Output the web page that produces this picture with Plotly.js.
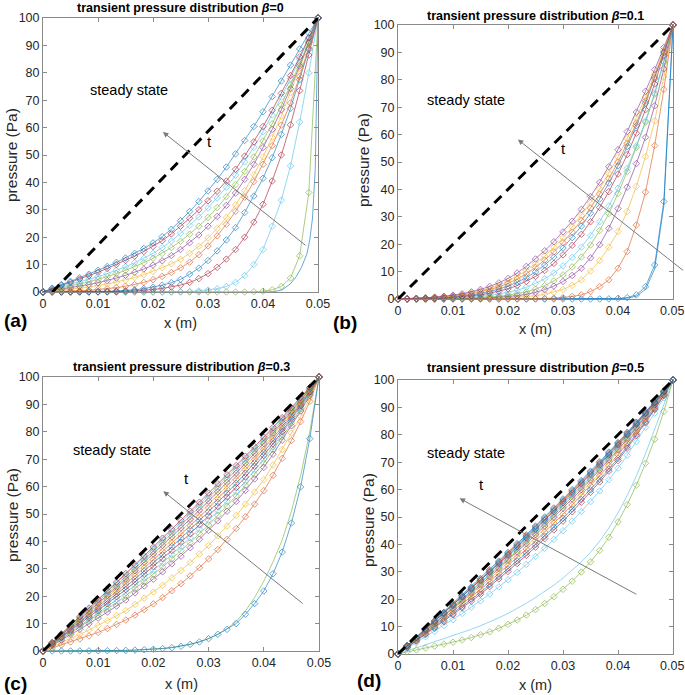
<!DOCTYPE html>
<html><head><meta charset="utf-8">
<script src="https://cdn.plot.ly/plotly-3.0.1.min.js"></script>
<style>html,body{margin:0;padding:0;background:#fff}#plot{width:685px;height:695px}</style>
</head><body><div id="plot"></div>
<script>
// ---------- data ----------
const X = [0,0.001667,0.003333,0.005,0.006667,0.008333,0.01,0.011667,0.013333,0.015,0.016667,0.018333,0.02,0.021667,0.023333,0.025,0.026667,0.028333,0.03,0.031667,0.033333,0.035,0.036667,0.038333,0.04,0.041667,0.043333,0.045,0.046667,0.048333,0.05];
const xTickVals = [0,0.01,0.02,0.03,0.04,0.05];
const xTickText = ['0','0.01','0.02','0.03','0.04','0.05'];
const xTickTextEdge = ['0','0.01','0.02','0.03','0.04',''];   // last label drawn separately at the page edge
const edgeTickLabel = '0.05';
const yTickVals = [0,10,20,30,40,50,60,70,80,90,100];

// steady state lines
const ssA_x = [0.0017,0.05], ssA_y = [0,100];
const ssB_x = [0,0.05], ssB_y = [0,100];
const ssC_x = [0,0.05], ssC_y = [0,100];
const ssD_x = [0,0.05], ssD_y = [0,100];

// (a) beta = 0
const aLineX = [0.04,0.042,0.0435,0.045,0.046,0.047,0.048,0.0485,0.049,0.0495,0.05];
const aLineY = [0,0.1,0.8,3,5.5,9,14,19,27,45,100];
const a01 = [0,0,0,0,0,0,0,0,0,0,0,0,0,0,0,0,0,0,0,0,0,0,0,0.1,0.3,0.8,2.0,5.1,13.2,36.3,100];
const a02 = [0,0,0,0,0,0,0,0,0,0,0,0,0,0.02,0.05,0.1,0.2,0.4,0.7,1.2,2.0,3.5,6.0,10.0,15.5,24.0,33.5,46.0,62.0,80.0,100];
const a03 = [0,0,0,0.01,0.02,0.03,0.06,0.1,0.15,0.25,0.4,0.6,0.9,1.3,1.8,2.5,3.5,4.9,6.7,9.0,12.0,15.5,20.0,25.5,32.0,40.5,50.0,61.0,73.5,86.5,100];
const a04 = [0,0.01,0.02,0.04,0.07,0.11,0.17,0.26,0.38,0.55,0.8,1.2,1.8,2.5,3.4,4.6,6.5,8.7,11.5,15.0,19.0,23.5,29.0,35.0,41.5,49.0,57.5,67.0,77.5,88.5,100];
const a05 = [0,0.1,0.2,0.3,0.45,0.65,0.9,1.2,1.6,2.1,2.7,3.5,4.5,5.7,7.1,8.8,10.9,13.6,16.8,20.5,24.7,29.4,34.6,40.3,46.6,53.4,60.9,69.0,78.7,89.0,100];
const a06 = [0,0.3,0.6,1.0,1.4,1.8,2.3,2.9,3.6,4.4,5.3,6.3,7.5,8.9,10.3,11.9,14.1,16.7,19.7,23.2,27.2,31.8,37.0,42.8,49.3,56.4,64.2,72.7,81.7,90.8,100];
const a07 = [0,0.5,1.0,1.5,2.1,2.7,3.4,4.2,5.1,6.1,7.2,8.4,9.8,11.4,13.3,15.5,18.0,20.8,24.0,27.6,31.6,36.1,41.1,46.6,52.7,59.3,66.5,74.2,82.5,91.1,100];
const a08 = [0,0.7,1.4,2.1,2.9,3.7,4.6,5.6,6.7,7.9,9.2,10.7,12.3,14.1,16.2,18.5,21.1,24.0,27.2,30.8,34.8,39.2,44.0,49.3,55.1,61.4,68.2,75.5,83.3,91.5,100];
const a09 = [0,0.9,1.8,2.7,3.6,4.6,5.6,6.7,7.9,9.2,10.7,12.3,14.1,16.2,18.6,21.4,24.3,27.4,30.7,34.3,38.2,42.6,47.5,52.8,58.5,64.6,71.1,77.9,85.0,92.4,100];
const a10 = [0,1.2,2.4,3.5,4.7,5.9,7.2,8.6,10.0,11.5,13.1,14.8,16.6,18.7,21.2,24.0,26.9,30.0,33.3,36.8,40.5,44.8,49.6,54.8,60.4,66.3,72.5,79.0,85.8,92.8,100];
const a11 = [0,1.4,2.7,3.9,5.2,6.5,7.9,9.3,10.8,12.4,14.1,15.9,17.9,20.2,22.9,26.0,29.4,33.0,36.9,41.1,45.6,50.4,55.3,60.4,65.8,71.3,77.0,82.8,88.7,94.5,100];

// (b) beta = 0.1
const bLine = [0,0,0,0,0,0,0,0,0,0,0,0,0,0,0,0,0,0,0,0,0,0,0,0,0.1,0.3,1.0,3.5,11.0,34.0,100];
const b01 = [0,0,0,0,0,0,0,0,0,0,0,0,0,0,0,0,0,0,0,0,0,0,0,0.05,0.2,0.5,1.5,4.5,12.4,35.6,100];
const b02 = [0,0,0,0,0,0,0,0,0,0,0,0,0,0.02,0.04,0.08,0.15,0.28,0.5,0.9,1.5,2.7,4.5,7.0,11.2,17.3,27.0,39.0,56.0,76.5,100];
const b03 = [0,0,0,0.01,0.01,0.02,0.03,0.05,0.08,0.12,0.18,0.27,0.4,0.58,0.85,1.2,1.75,2.5,3.5,5.0,7.0,10.2,14.0,18.9,24.6,31.9,41.1,52.0,65.0,81.0,100];
const b04 = [0,0,0.01,0.02,0.03,0.05,0.08,0.12,0.18,0.27,0.4,0.58,0.83,1.2,1.7,2.4,3.4,4.7,6.4,8.6,11.2,15.0,19.8,25.8,33.0,40.8,49.4,59.0,70.5,84.0,100];
const b05 = [0,0.01,0.02,0.04,0.07,0.11,0.17,0.25,0.36,0.51,0.72,1.0,1.4,1.9,2.6,3.6,4.9,6.6,8.8,11.7,15.3,19.7,25.0,31.2,38.5,46.5,55.3,64.5,74.7,86.5,100];
const b06 = [0,0.02,0.04,0.08,0.14,0.22,0.33,0.48,0.68,0.95,1.3,1.8,2.4,3.2,4.3,5.7,7.4,9.5,12.1,15.2,18.9,23.2,28.2,33.9,40.4,47.7,55.9,65.0,75.2,86.9,100];
const b07 = [0,0.03,0.07,0.15,0.25,0.38,0.55,0.8,1.1,1.5,2.1,2.8,3.7,4.9,6.4,8.2,10.4,13.0,16.1,19.6,23.6,28.2,33.4,39.2,45.6,52.7,60.5,69.1,78.5,88.9,100];
const b08 = [0,0.05,0.1,0.2,0.35,0.5,0.75,1.05,1.45,2.0,2.7,3.6,4.7,6.1,7.8,9.9,12.4,15.3,18.6,22.4,26.6,31.3,36.5,42.3,48.6,55.6,63.2,71.5,80.4,89.9,100];
const b09 = [0,0.1,0.2,0.3,0.5,0.7,1.0,1.4,1.9,2.6,3.4,4.4,5.7,7.3,9.2,11.5,14.2,17.2,20.6,24.4,28.6,33.2,38.3,43.9,50.0,56.8,64.2,72.3,81.0,90.3,100];
const b10 = [0,0.1,0.2,0.4,0.6,0.9,1.2,1.6,2.2,3.0,3.9,5.1,6.5,8.3,10.4,12.9,15.7,18.9,22.4,26.3,30.5,35.1,40.2,45.8,51.9,58.6,65.9,73.7,82.1,90.9,100];
const b11 = [0,0.1,0.25,0.45,0.7,1.0,1.4,1.9,2.6,3.5,4.6,5.9,7.5,9.5,11.9,14.6,17.6,20.9,24.5,28.4,32.7,37.4,42.6,48.3,54.5,61.1,68.2,75.8,83.7,91.8,100];

// (c) beta = 0.3
const c01 = [0,0,0,0.01,0.02,0.04,0.07,0.1,0.15,0.22,0.32,0.45,0.65,0.9,1.2,1.7,2.4,3.3,4.5,6.1,7.9,10.0,13.4,17.3,21.9,28.2,36.1,46.7,59.9,77.5,100];
const cLine = [0,0,0,0.01,0.02,0.04,0.07,0.1,0.15,0.22,0.32,0.45,0.65,0.9,1.3,1.8,2.5,3.4,4.6,6.1,8.1,10.8,14.6,19.5,25.5,32.5,40.5,51.0,64.0,80.0,100];
const c02 = [0,1.1,2.2,3.3,4.4,5.5,6.8,8.2,9.7,11.3,13.1,15.1,17.2,19.5,22.0,24.6,27.4,30.4,33.6,37.0,40.7,44.7,49.0,53.6,58.5,64.1,70.3,76.8,83.7,91.1,100];
const c03 = [0,1.6,3.0,4.6,6.0,7.6,9.3,11.1,12.9,14.7,17.0,19.3,21.5,24.0,26.7,29.4,32.3,35.4,38.5,42.0,45.6,49.4,53.6,58.0,62.5,67.9,73.5,79.5,85.6,92.2,100];
const c04 = [0,2.1,3.9,6.0,7.9,9.9,12.0,14.2,16.4,18.6,21.2,23.7,26.2,28.9,31.8,34.6,37.7,40.8,44.0,47.5,51.0,54.6,58.6,62.8,67.0,71.8,76.9,82.2,87.6,93.3,100];
const c05 = [0,2.2,4.3,6.5,8.6,10.8,13.0,15.4,17.7,20.1,22.7,25.3,28.0,30.7,33.6,36.6,39.6,42.8,46.0,49.5,52.9,56.6,60.5,64.5,68.6,73.3,78.1,83.1,88.3,93.7,100];
const c06 = [0,2.4,4.6,6.9,9.2,11.5,13.9,16.3,18.8,21.3,24.0,26.7,29.4,32.3,35.2,38.2,41.3,44.5,47.7,51.2,54.6,58.2,62.0,66.0,70.0,74.5,79.2,84.0,88.9,94.1,100];
const c07 = [0,2.5,4.9,7.3,9.7,12.2,14.7,17.2,19.8,22.4,25.2,28.0,30.8,33.7,36.7,39.7,42.8,46.1,49.3,52.7,56.2,59.7,63.5,67.4,71.3,75.6,80.1,84.8,89.5,94.4,100];
const c08 = [0,2.6,5.1,7.7,10.2,12.8,15.4,18.1,20.8,23.5,26.3,29.2,32.1,35.1,38.1,41.2,44.3,47.6,50.8,54.2,57.6,61.2,64.9,68.7,72.5,76.7,81.1,85.5,90.0,94.7,100];
const c09 = [0,2.7,5.3,8.1,10.7,13.4,16.1,18.9,21.7,24.5,27.4,30.3,33.3,36.3,39.4,42.5,45.7,48.9,52.2,55.6,59.0,62.5,66.2,69.9,73.6,77.7,81.9,86.2,90.5,95.0,100];
const c10 = [0,2.8,5.6,8.4,11.1,13.9,16.8,19.6,22.5,25.4,28.4,31.4,34.4,37.5,40.6,43.8,47.0,50.2,53.5,56.9,60.3,63.8,67.4,71.0,74.7,78.7,82.7,86.8,91.0,95.3,100];
const c11 = [0,2.9,5.8,8.7,11.5,14.4,17.4,20.3,23.3,26.2,29.3,32.4,35.4,38.6,41.7,44.9,48.1,51.4,54.7,58.1,61.5,64.9,68.5,72.1,75.7,79.5,83.4,87.4,91.4,95.6,100];
const c12 = [0,3.0,6.0,9.0,11.9,14.9,17.9,20.9,24.0,27.0,30.1,33.3,36.4,39.6,42.8,46.0,49.2,52.5,55.8,59.2,62.5,66.0,69.5,73.0,76.6,80.3,84.1,87.9,91.8,95.8,100];
const c13 = [0,3.1,6.1,9.2,12.2,15.3,18.4,21.5,24.6,27.7,30.9,34.1,37.3,40.5,43.7,46.9,50.2,53.5,56.8,60.2,63.5,66.9,70.4,73.9,77.4,81.0,84.7,88.4,92.2,96.0,100];
const c14 = [0,3.1,6.3,9.4,12.5,15.7,18.8,22.0,25.1,28.3,31.5,34.7,37.9,41.2,44.4,47.7,51.0,54.3,57.6,61.0,64.3,67.7,71.1,74.6,78.0,81.6,85.2,88.8,92.5,96.2,100];

// (d) beta = 0.5
const d01 = [0,0.8,1.5,2.2,2.9,3.6,4.3,5.1,6.0,7.0,8.1,9.4,10.8,12.4,14.2,16.2,18.4,20.9,23.6,26.6,29.9,33.6,37.8,42.6,48.2,54.5,61.6,69.6,78.4,88.5,100];
const dLine = [0,1.1,2.2,3.3,4.4,5.5,6.6,7.8,9.0,10.3,11.7,13.2,14.8,16.6,18.5,20.6,22.8,25.1,27.7,30.5,33.6,37.1,41.2,46.0,51.5,57.8,65.0,73.1,81.9,90.9,100];
const d02 = [0,2.1,4.1,6.3,8.2,10.4,12.5,14.8,17.1,19.4,21.9,24.5,27.1,29.8,32.7,35.6,38.6,41.8,45.0,48.5,52.0,55.6,59.5,63.6,67.8,72.5,77.5,82.7,87.9,93.5,100];
const d03 = [0,2.4,4.7,7.1,9.4,11.8,14.3,16.8,19.3,21.8,24.6,27.4,30.1,33.0,36.0,39.0,42.1,45.3,48.5,51.9,55.4,59.0,62.8,66.7,70.6,75.1,79.7,84.4,89.2,94.3,100];
const d04 = [0,2.5,4.9,7.4,9.8,12.3,14.8,17.3,20.0,22.5,25.4,28.2,31.0,33.9,36.9,39.9,43.0,46.3,49.5,52.9,56.4,59.9,63.7,67.5,71.4,75.8,80.3,84.9,89.6,94.5,100];
const d05 = [0,2.6,5.1,7.8,10.3,12.9,15.5,18.2,20.9,23.6,26.5,29.4,32.3,35.2,38.3,41.4,44.5,47.8,51.0,54.4,57.9,61.4,65.1,68.8,72.7,76.9,81.2,85.6,90.1,94.8,100];
const d06 = [0,2.7,5.3,8.1,10.7,13.4,16.1,18.9,21.7,24.5,27.4,30.3,33.3,36.3,39.4,42.5,45.7,48.9,52.2,55.6,59.0,62.5,66.2,69.9,73.6,77.7,81.9,86.2,90.5,95.0,100];
const d07 = [0,2.8,5.5,8.3,11.0,13.8,16.6,19.5,22.3,25.2,28.2,31.2,34.2,37.2,40.3,43.5,46.7,49.9,53.2,56.6,60.0,63.5,67.1,70.8,74.5,78.4,82.5,86.7,90.9,95.2,100];
const d08 = [0,2.9,5.6,8.5,11.3,14.1,17.0,19.9,22.8,25.7,28.8,31.8,34.8,37.9,41.1,44.2,47.5,50.7,54.0,57.4,60.8,64.2,67.8,71.4,75.1,79.0,83.0,87.1,91.2,95.4,100];
const d09 = [0,2.9,5.8,8.7,11.5,14.4,17.4,20.3,23.3,26.2,29.3,32.4,35.4,38.6,41.7,44.9,48.1,51.4,54.7,58.1,61.5,64.9,68.5,72.1,75.7,79.5,83.4,87.4,91.4,95.6,100];
const d10 = [0,3.0,5.9,8.8,11.7,14.7,17.7,20.7,23.7,26.7,29.8,32.9,36.0,39.1,42.3,45.5,48.7,52.0,55.3,58.7,62.1,65.5,69.0,72.6,76.2,80.0,83.8,87.7,91.6,95.7,100];
const d11 = [0,3.0,6.0,9.0,11.9,14.9,17.9,20.9,24.0,27.0,30.1,33.3,36.4,39.6,42.8,46.0,49.2,52.5,55.8,59.2,62.5,66.0,69.5,73.0,76.6,80.3,84.1,87.9,91.8,95.8,100];
const d12 = [0,3.0,6.0,9.1,12.0,15.1,18.1,21.2,24.2,27.3,30.4,33.6,36.7,39.9,43.1,46.4,49.6,52.9,56.2,59.6,62.9,66.4,69.8,73.4,76.9,80.6,84.4,88.1,92.0,95.9,100];
const d13 = [0,3.1,6.1,9.2,12.2,15.2,18.3,21.4,24.5,27.6,30.8,33.9,37.1,40.3,43.5,46.7,50.0,53.3,56.6,60.0,63.3,66.7,70.2,73.7,77.2,80.9,84.6,88.3,92.1,96.0,100];

const titles = ['transient pressure distribution <i>β</i>=0','transient pressure distribution <i>β</i>=0.1','transient pressure distribution <i>β</i>=0.3','transient pressure distribution <i>β</i>=0.5'];
const panelLetters = ['(a)','(b)','(c)','(d)'];

// ---------- styling ----------
const COL = {blue:'#0072BD',orange:'#D95319',yellow:'#EDB120',purple:'#7E2F8E',green:'#77AC30',cyan:'#4DBEEE',red:'#A2142F'};
const FONT = 'Liberation Sans, Arial, Helvetica, sans-serif';

function curve(n, x, y, color, withMarkers){
  return {type:'scatter', mode: withMarkers?'lines+markers':'lines', x:x, y:y,
    xaxis:'x'+(n>1?n:''), yaxis:'y'+(n>1?n:''),
    line:{color:color, width:0.75},
    marker:{symbol:'diamond-open', size:5, color:color, line:{width:0.75, color:color}},
    opacity:0.8, cliponaxis:false, showlegend:false, hoverinfo:'skip'};
}
function steady(n, x, y){
  return {type:'scatter', mode:'lines', x:x, y:y, xaxis:'x'+(n>1?n:''), yaxis:'y'+(n>1?n:''),
    line:{color:'#000', width:3, dash:'10px,7px'}, showlegend:false, hoverinfo:'skip'};
}

const traces = [];
// (a)
traces.push(curve(1, aLineX, aLineY, COL.blue, false));
[[a01,'green'],[a02,'cyan'],[a03,'red'],[a04,'blue'],[a05,'orange'],[a06,'yellow'],[a07,'purple'],[a08,'green'],[a09,'cyan'],[a10,'red'],[a11,'blue']]
  .forEach(p=>traces.push(curve(1, X, p[0], COL[p[1]], true)));
traces.push(steady(1, ssA_x, ssA_y));
// (b)
traces.push(curve(2, X, bLine, COL.blue, false));
[[b01,'blue'],[b02,'orange'],[b03,'yellow'],[b04,'purple'],[b05,'green'],[b06,'cyan'],[b07,'red'],[b08,'blue'],[b09,'orange'],[b10,'yellow'],[b11,'purple']]
  .forEach(p=>traces.push(curve(2, X, p[0], COL[p[1]], true)));
traces.push(steady(2, ssB_x, ssB_y));
// (c)
traces.push(curve(3, X, cLine, COL.green, false));
[[c01,'blue'],[c02,'orange'],[c03,'yellow'],[c04,'purple'],[c05,'green'],[c06,'cyan'],[c07,'red'],[c08,'blue'],[c09,'orange'],[c10,'yellow'],[c11,'purple'],[c12,'green'],[c13,'cyan'],[c14,'red']]
  .forEach(p=>traces.push(curve(3, X, p[0], COL[p[1]], true)));
traces.push(steady(3, ssC_x, ssC_y));
// (d)
traces.push(curve(4, X, dLine, COL.cyan, false));
[[d01,'green'],[d02,'cyan'],[d03,'red'],[d04,'blue'],[d05,'orange'],[d06,'yellow'],[d07,'purple'],[d08,'green'],[d09,'cyan'],[d10,'red'],[d11,'blue'],[d12,'orange'],[d13,'blue']]
  .forEach(p=>traces.push(curve(4, X, p[0], COL[p[1]], true)));
traces.push(steady(4, ssD_x, ssD_y));

// ---------- layout ----------
const W = 685, H = 695;
function px2x(p){return p/W;}
function px2y(p){return 1-p/H;}
const boxes = [ // [left, right, top, bottom] in pixels
  [43,318,18,292],[398,673,25,299],[43,319,377,651],[398,673,380,654]];

function xax(i){
  const b = boxes[i];
  const edge = (i===1 || i===3);
  return {domain:[px2x(b[0]),px2x(b[1])], range:[0,0.05], anchor:'y'+(i?i+1:''),
    tickvals:xTickVals, ticktext: edge ? xTickTextEdge : xTickText, ticks:'inside', ticklen:4, tickcolor:'#8a8a8a',
    showline:true, linecolor:'#8a8a8a', linewidth:1, mirror:'ticks', showgrid:false, zeroline:false,
    ticklabeloverflow:'allow',
    tickfont:{family:FONT,size:12.5,color:'#262626'}, fixedrange:true};
}
function yax(i){
  const b = boxes[i];
  return {domain:[px2y(b[3]),px2y(b[2])], range:[0,100], anchor:'x'+(i?i+1:''),
    tickvals:yTickVals, ticks:'inside', ticklen:4, tickcolor:'#8a8a8a',
    showline:true, linecolor:'#8a8a8a', linewidth:1, mirror:'ticks', showgrid:false, zeroline:false,
    ticklabeloverflow:'allow',
    tickfont:{family:FONT,size:12.5,color:'#262626'}, fixedrange:true};
}

const ann = [];
const titlePos = [[180.5,8],[535.5,15.5],[181,366.5],[535.5,368]];
const ylabPos = [[12,155],[363,160],[12,515],[368,520]];
const xlabPos = [[180.5,323],[535.5,329],[181,684],[535.5,685]];
const letterPos = [[2,320],[331,322],[2,683],[355,680]];
for(let i=0;i<4;i++){
  ann.push({xref:'paper',yref:'paper',x:px2x(titlePos[i][0]),y:px2y(titlePos[i][1]),text:'<b>'+titles[i]+'</b>',
    showarrow:false,xanchor:'center',yanchor:'middle',font:{family:FONT,size:12.5,color:'#000'}});
  ann.push({xref:'paper',yref:'paper',x:px2x(ylabPos[i][0]),y:px2y(ylabPos[i][1]),text:'pressure (Pa)',textangle:-90,
    showarrow:false,xanchor:'center',yanchor:'middle',font:{family:FONT,size:15.5,color:'#262626'}});
  ann.push({xref:'paper',yref:'paper',x:px2x(xlabPos[i][0]),y:px2y(xlabPos[i][1]),text:'x (m)',
    showarrow:false,xanchor:'center',yanchor:'middle',font:{family:FONT,size:14.5,color:'#262626'}});
  ann.push({xref:'paper',yref:'paper',x:px2x(letterPos[i][0]),y:px2y(letterPos[i][1]),text:'<b>'+panelLetters[i]+'</b>',
    showarrow:false,xanchor:'left',yanchor:'middle',font:{family:FONT,size:19,color:'#000'}});
}
// last x tick label of the right-hand panels, right at the page edge
[[1,311],[3,666]].forEach(p=>{
  ann.push({xref:'paper',yref:'paper',x:1,y:px2y(p[1]),text:edgeTickLabel,showarrow:false,
    xanchor:'right',yanchor:'middle',borderpad:0,font:{family:FONT,size:12.5,color:'#262626'}});
});
// arrows (head, tail) and text labels per panel, in data coordinates
const arrows = [[0.0218,58.4,0.048,16.6],[0.0218,58.2,0.0521,10],[0.0218,58.3,0.0473,16.9],[0.0112,56.8,0.0436,21.5]];
const tPos = [[0.0302,55],[0.030,55.1],[0.026,62.9],[0.0152,61.7]];
const ssPos = [[0.0082,73.6],[0.0049,72.8],[0.005,73.2],[0.0049,73.2]];
for(let i=0;i<4;i++){
  const xs = 'x'+(i?i+1:''), ys = 'y'+(i?i+1:'');
  const a = arrows[i];
  ann.push({xref:xs,yref:ys,axref:xs,ayref:ys,x:a[0],y:a[1],ax:a[2],ay:a[3],text:'',showarrow:true,
    arrowhead:2,arrowsize:1.1,arrowwidth:1,arrowcolor:'#7a7a7a',standoff:0,startstandoff:0});
  ann.push({xref:xs,yref:ys,x:tPos[i][0],y:tPos[i][1],text:'t',showarrow:false,xanchor:'center',yanchor:'middle',
    font:{family:FONT,size:15,color:'#000'}});
  ann.push({xref:xs,yref:ys,x:ssPos[i][0],y:ssPos[i][1],text:'steady state',showarrow:false,xanchor:'left',yanchor:'middle',
    font:{family:FONT,size:14.5,color:'#000'}});
}

const layout = {width:W,height:H,margin:{l:0,r:0,t:0,b:0},paper_bgcolor:'#fff',plot_bgcolor:'#fff',
  showlegend:false, annotations:ann,
  xaxis:xax(0), yaxis:yax(0), xaxis2:xax(1), yaxis2:yax(1), xaxis3:xax(2), yaxis3:yax(2), xaxis4:xax(3), yaxis4:yax(3)};

Plotly.newPlot('plot', traces, layout, {staticPlot:true, displayModeBar:false});
</script>
</body></html>
